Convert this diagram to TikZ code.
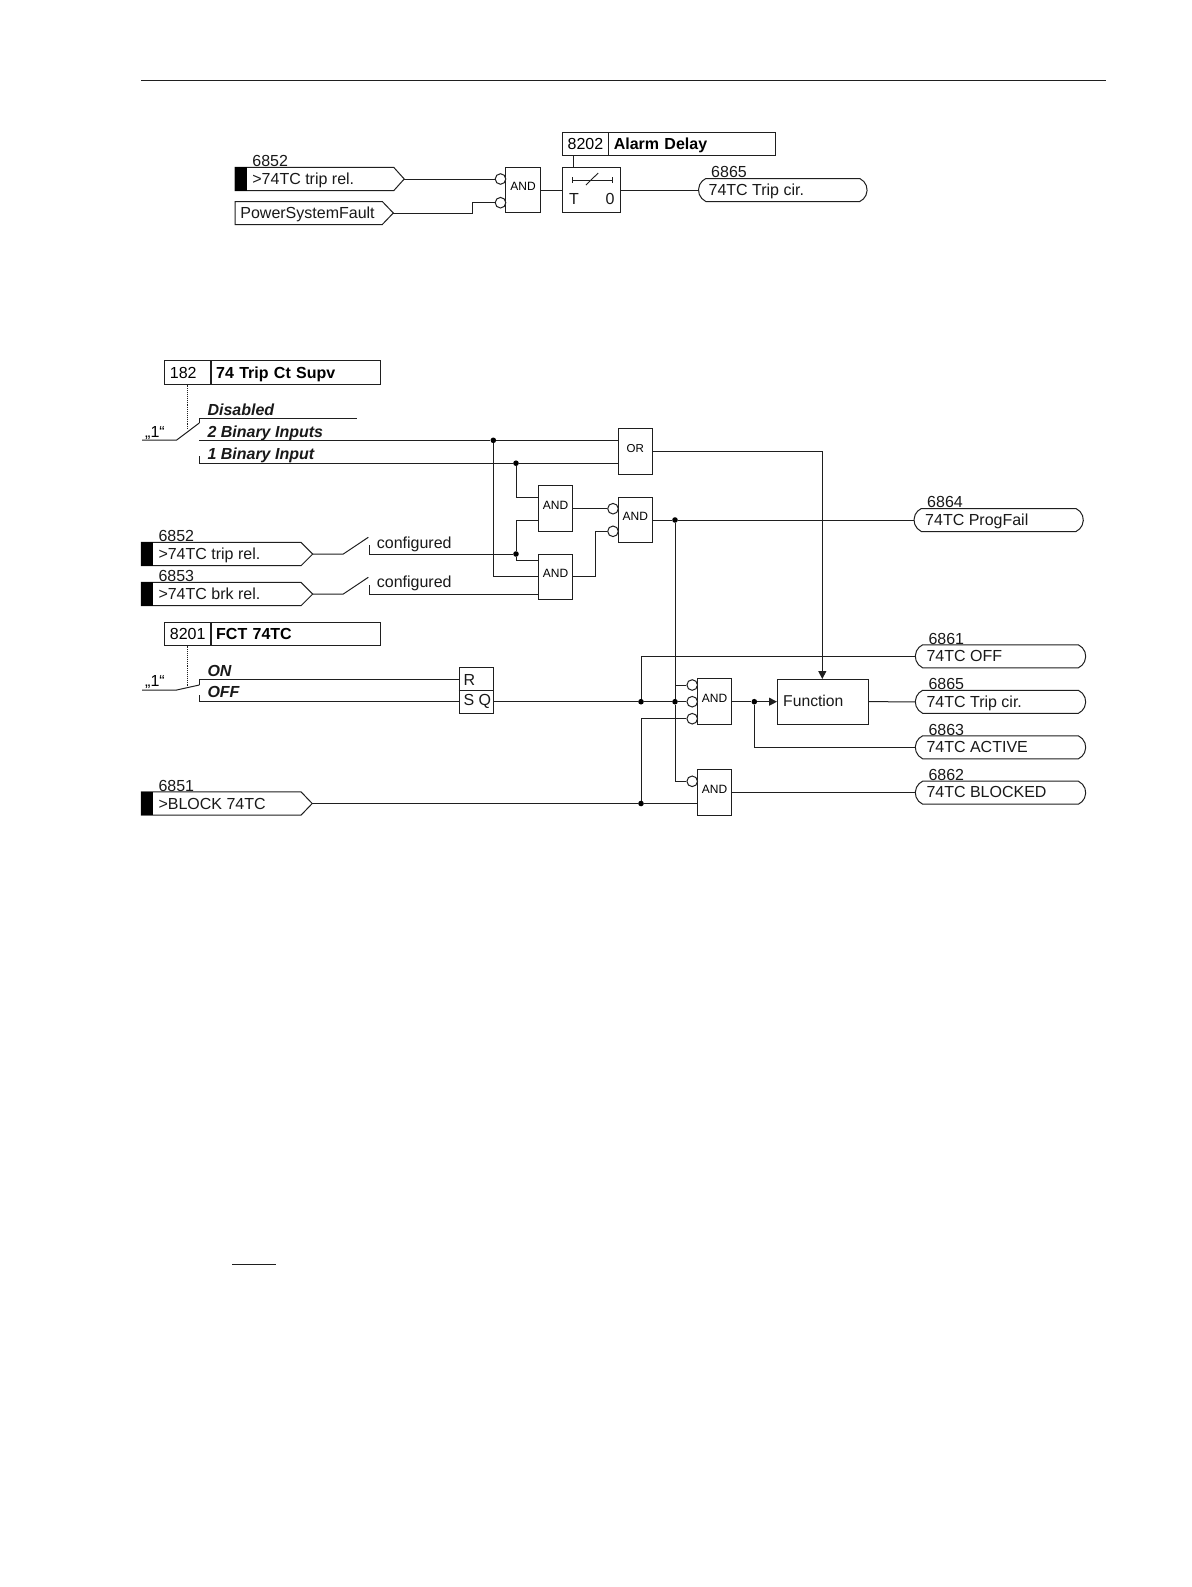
\documentclass[tikz,border=0pt]{standalone}
\usepackage{fontspec}
\setmainfont{Liberation Sans}
\usetikzlibrary{shapes.misc,calc,arrows.meta}
\definecolor{ink}{gray}{0.12}
\tikzset{
  wire/.style={draw=ink,line width=1pt,line join=miter},
  thinw/.style={draw=ink,line width=0.9pt},
  gate/.style={draw=ink,line width=1pt,fill=white,rectangle,inner sep=0pt,font=\fontsize{12}{12}\selectfont,text height=8.6pt,text depth=6.8pt,minimum width=34.4pt,minimum height=45.6pt},
  bubble/.style={draw=ink,line width=1pt,fill=white,circle,inner sep=0pt,minimum size=10.6pt},
  dot/.style={fill=black,circle,inner sep=0pt,minimum size=5.6pt},
  txt/.style={inner sep=0pt,anchor=west,font=\fontsize{16}{16}\selectfont,text height=11.5pt,text depth=0pt,text=black!90},
  bi/.style={txt,font=\fontsize{16}{16}\selectfont\bfseries\itshape},
  idbox/.style={draw=ink,line width=1pt,rectangle,inner sep=0pt,inner xsep=5pt,align=left,text width=35.7pt,font=\fontsize{16}{16}\selectfont,minimum height=23.4pt,text height=11.5pt,text depth=0pt},
  namebox/.style={idbox,anchor=west,font=\fontsize{16}{16}\selectfont\bfseries},
  outbox/.style={draw=ink,line width=1pt,rounded rectangle,rounded rectangle arc length=130,inner sep=0pt,minimum height=23pt},
  arrowed/.style={-{Triangle[length=8pt,width=8pt]}},
}
\newcommand{\tx}{17}
\newcommand{\ox}{11}
\newcommand{\nx}{13}
% name, ymid, left, shoulder, tip, text, number
\newcommand{\intag}[7]{%
  \draw[wire] (#3,#2-11.7) -- (#4,#2-11.7) -- (#5,#2) -- (#4,#2+11.7) -- (#3,#2+11.7) -- cycle;
  \fill[black] (#3,#2-11.7) rectangle (#3+12,#2+11.7);
  \coordinate (#1) at (#5,#2);
  \node[txt] (#1t) at (#3+\tx,#2) {#6};
  \node[txt] (#1n) at (#3+\tx,#2-18) {#7};
}
% name, ymid, left, right, text, number
\newcommand{\outtag}[6]{%
  \node[outbox,minimum width=#4pt-#3pt] (#1) at ({(#3+#4)/2},#2) {};
  \node[txt] (#1t) at (#3+\ox,#2-0.5) {#5};
  \node[txt] (#1n) at (#3+\nx,#2-17.8) {#6};
}
\begin{document}
\begin{tikzpicture}[x=1pt,y=-1pt]
\useasboundingbox (0,0) rectangle (1191,1587);
\fill[white] (0,0) rectangle (1191,1587);
% page rule and stray rule
\coordinate (ruleL) at (141,80); \coordinate (ruleR) at (1106,80);
\draw[thinw] (ruleL) -- (ruleR);
\coordinate (stubL) at (232,1264); \coordinate (stubR) at (276,1264);
\draw[thinw] (stubL) -- (stubR);

%%%% TOP DIAGRAM
\intag{ta}{179}{235.2}{393.7}{404.2}{>74TC trip rel.}{6852}
% power system fault
\draw[wire] (235.2,201.5) -- (382.3,201.5) -- (393.3,213) -- (382.3,224.5) -- (235.2,224.5) -- cycle;
\coordinate (tb) at (393.3,213);
\node[txt] (tbt) at (240.2,213) {PowerSystemFault};
\node[gate] (tg) at (523.1,190) {AND};
\node[bubble] (tb1) at (500.5,179) {};
\node[bubble] (tb2) at (500.5,202.7) {};
\draw[wire] (ta) -- (tb1.west);
\draw[wire] (tb) -- (472.1,213) -- (472.1,202.7) -- (tb2.west);
\node[gate,minimum width=58.2pt,text depth=0pt,text height=0pt] (tt) at (591.8,190) {};
\draw[wire] (tg.east) -- (tt.west);
\node[idbox] (tid) at (585.5,144) {8202};
\node[namebox,text width=157pt] (tnm) at (608.3,144) {Alarm Delay};
\coordinate (tsetdown) at (573.3,156);
\draw[wire] (tsetdown) -- (tsetdown |- tt.north);
\coordinate (ts1) at (572.9,180); \coordinate (ts2) at (612.1,180);
\draw[thinw] (ts1) -- (ts2);
\draw[thinw] ([yshift=3pt]ts1) -- ([yshift=-3pt]ts1);
\draw[thinw] ([yshift=3pt]ts2) -- ([yshift=-3pt]ts2);
\coordinate (ts3) at (585.9,185); \coordinate (ts4) at (598.2,173);
\draw[thinw] (ts3) -- (ts4);
\node[txt,anchor=center] (tT) at (574,199) {T};
\node[txt,anchor=center] (t0) at (610,199) {0};
\renewcommand{\ox}{9.9}\renewcommand{\nx}{12.5}
\outtag{tout}{190}{698.5}{867.1}{74TC Trip cir.}{6865}
\renewcommand{\ox}{11}\renewcommand{\nx}{13}
\draw[wire] (tt.east) -- (tout.west);

%%%% MIDDLE: setting 182
\node[idbox] (s182) at (187.8,372.3) {182};
\node[namebox,text width=159.3pt] (n182) at (210.7,372.3) {74 Trip Ct Supv};
\coordinate (d182) at (187.3,430);
\draw[thinw,densely dotted] (s182.south -| d182) -- (d182);
\node[inner sep=0pt,font=\fontsize{16}{16}\selectfont,anchor=west,text height=11pt,text depth=0pt] (one1) at (145,431.5) {„1“};
\coordinate (sw1a) at (142,440); \coordinate (sw1b) at (176.7,440); \coordinate (sw1c) at (199.3,423);
\draw[wire] (sw1a) -- (sw1b) -- (sw1c);
\coordinate (dis0) at (199.3,423); \coordinate (dis1) at (199.3,418); \coordinate (dis2) at (357,418);
\draw[wire] (dis0) -- (dis1) -- (dis2);
\node[bi] (tdis) at (207.3,409.3) {Disabled};
\node[bi] (t2bi) at (207.3,432) {2 Binary Inputs};
\node[bi] (t1bi) at (207.3,454) {1 Binary Input};

\node[gate,font=\fontsize{11.5}{12}\selectfont] (or) at (635.3,451.7) {OR};
\node[gate] (a1) at (555.5,508.7) {AND};
\node[gate] (a2) at (555.5,577) {AND};
\node[gate] (a3) at (635.3,520) {AND};
\node[bubble] (b31) at (613,508.7) {};
\node[bubble] (b32) at (613,531.3) {};

\coordinate (c2) at (199.3,440.3);
\coordinate (c1) at (199.3,463.2); \coordinate (c1t) at (199.3,456);
\node[dot] (j2) at (493.3,440.3) {};
\node[dot] (j1) at (516,463.2) {};
\draw[wire] (c2) -- (j2) -- (c2 -| or.west);
\draw[wire] (c1t) -- (c1) -- (j1) -- (c1 -| or.west);
\draw[wire] (j1) -- (516,497.3) -- (538.3,497.3);
\node[dot] (j3) at (516,554) {};
\draw[wire] (538.3,520) -- (516,520) -- (j3);
\draw[wire] (j3) -- (516,560) -- (538.3,560);
\draw[wire] (j2) -- (493.3,576.7) -- (538.3,576.7);
\draw[wire] (a1.east) -- (b31.west);
\draw[wire] (572.7,576.7) -- (595.3,576.7) -- (595.3,531.3) -- (b32.west);

\intag{t52}{554}{141.3}{301}{312.7}{>74TC trip rel.}{6852}
\intag{t53}{594}{141.3}{301}{312.7}{>74TC brk rel.}{6853}
\coordinate (s52a) at (343.3,554); \coordinate (s52b) at (368.3,537.3);
\coordinate (s53a) at (343.3,594); \coordinate (s53b) at (368.3,577.3);
\draw[wire] (t52) -- (s52a) -- (s52b);
\draw[wire] (t53) -- (s53a) -- (s53b);
\coordinate (c52) at (369,545); \coordinate (c53) at (369,585);
\draw[wire] (c52) -- (369,554) -- (j3);
\draw[wire] (c53) -- (369,594) -- (538.3,594);
\node[txt] (cf1) at (376.7,542.5) {configured};
\node[txt] (cf2) at (376.7,581.5) {configured};

% outputs
\outtag{o64}{520}{914}{1083.3}{74TC ProgFail}{6864}
\outtag{o61}{656.3}{915.3}{1085.7}{74TC OFF}{6861}
\outtag{o65}{701.8}{915.3}{1085.7}{74TC Trip cir.}{6865}
\outtag{o63}{747.3}{915.3}{1085.7}{74TC ACTIVE}{6863}
\outtag{o62}{792.7}{915.3}{1085.7}{74TC BLOCKED}{6862}

\node[dot] (j4) at (675,520) {};
\draw[wire] (a3.east) -- (j4) -- (o64.west);

% setting 8201
\node[idbox,minimum height=22.4pt] (s82) at (187.8,633.8) {8201};
\node[namebox,text width=159.3pt,minimum height=22.4pt] (n82) at (210.7,633.8) {FCT 74TC};
\coordinate (d82) at (187.3,687.3);
\draw[thinw,densely dotted] (s82.south -| d82) -- (d82);
\node[inner sep=0pt,font=\fontsize{16}{16}\selectfont,anchor=west,text height=11pt,text depth=0pt] (one2) at (145,681) {„1“};
\coordinate (sw2a) at (142,690); \coordinate (sw2b) at (176.7,690); \coordinate (sw2c) at (199.3,685);
\draw[wire] (sw2a) -- (sw2b) -- (sw2c);
\node[bi] (ton) at (207.3,670.7) {ON};
\node[bi] (toff) at (207.3,691.7) {OFF};

\node[gate,minimum height=46pt,text height=0pt,text depth=0pt] (rs) at (476.3,690.3) {};
\draw[thinw] (rs.west) -- (rs.east);
\node[txt] (tR) at (463.3,680) {R};
\node[txt] (tSQ) at (463.3,699.5) {S Q};
\coordinate (onA) at (199.3,685); \coordinate (onB) at (199.3,679.3);
\coordinate (ofA) at (199.3,695); \coordinate (ofB) at (199.3,701.7);
\draw[wire] (onA) -- (onB) -- (459.3,679.3);
\draw[wire] (ofA) -- (ofB) -- (459.3,701.7);

% lower logic
\node[gate] (a4) at (714.5,701.7) {AND};
\node[gate] (a5) at (714.5,792.5) {AND};
\node[bubble] (b41) at (692.2,685) {};
\node[bubble] (b42) at (692.2,701.7) {};
\node[bubble] (b43) at (692.2,718.7) {};
\node[bubble] (b51) at (692.2,781.3) {};
\node[draw=ink,line width=1pt,rectangle,inner sep=0pt,anchor=west,minimum width=91pt,minimum height=45.4pt,fill=white] (fn) at (777,701.7) {};
\node[txt,font=\fontsize{15.7}{16}\selectfont] (tfn) at (783,701) {Function};

\node[dot] (j5) at (641,701.7) {};
\node[dot] (j6) at (675,701.7) {};
\node[dot] (j7) at (754.3,701.7) {};
\node[dot] (j8) at (641,803.5) {};
\draw[wire] (493.7,701.7) -- (j5) -- (j6) -- (b42.west);
\draw[wire] (j5) -- (641,656.3) -- (o61.west);
\draw[wire] (j4) -- (j6);
\draw[wire] (j6) -- (675,685) -- (b41.west);
\draw[wire] (j6) -- (675,781.3) -- (b51.west);
\draw[wire] (j8) -- (641,718.7) -- (b43.west);

\intag{t51}{803.5}{141.3}{301}{312.2}{>BLOCK 74TC}{6851}
\draw[wire] (t51) -- (j8) -- (697.3,803.5);

\draw[wire] (a4.east) -- (j7);
\draw[wire,arrowed] (j7) -- (fn.west);
\draw[wire] (j7) -- (754.3,747.3) -- (o63.west);
\draw[wire] (fn.east) -- (o65.west);
\draw[wire] (731.7,792.7) -- (o62.west);
\draw[wire,arrowed] (or.east) -- (822.3,451.7) -- (822.3,679);
\end{tikzpicture}
\end{document}
